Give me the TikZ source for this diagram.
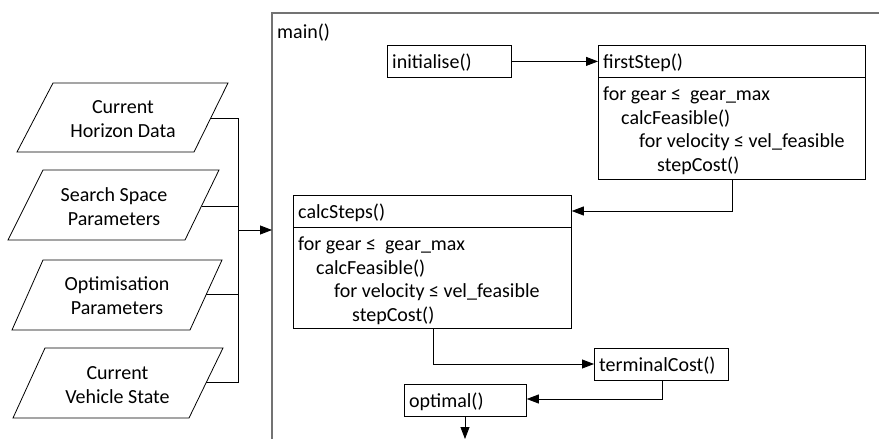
\documentclass[tikz,border=0pt]{standalone}
\usepackage{fontspec}
\setmainfont{Carlito}
\usetikzlibrary{arrows.meta}
\begin{document}
\begin{tikzpicture}[x=1pt,y=-1pt,
  box/.style={draw, line width=0.8pt, inner sep=0pt, anchor=north west},
  txt/.style={anchor=base west, inner sep=0pt, font=\fontsize{20}{23.5}\selectfont},
  ptxt/.style={align=center, inner sep=0pt, font=\fontsize{20}{24}\selectfont},
  para/.style={draw, line width=0.8pt, line join=miter},
  link/.style={line width=0.8pt},
  arr/.style={line width=0.8pt, -{Triangle[length=12pt,width=9pt]}},
  frame/.style={draw=black!55, line width=1.4pt}]
\useasboundingbox (0,0) rectangle (879,439);

% main frame
\draw[frame] (272,439) -- (272,13) -- (879,13);
\node[txt] (mainlbl) at (277,38) {main()};
\coordinate (mainin) at (272,230);

% input parallelograms
\draw[para] (53,83) -- (228,83) -- (194,152) -- (17,152) -- cycle;
\node[ptxt] (horizon) at (123,119) {Current\\Horizon Data};
\coordinate (horizonE) at (211,118);

\draw[para] (43,170) -- (219,170) -- (185,240) -- (8,240) -- cycle;
\node[ptxt] (search) at (114,207) {Search Space\\Parameters};
\coordinate (searchE) at (202,206);

\draw[para] (43,260) -- (222,260) -- (190,330) -- (12,330) -- cycle;
\node[ptxt] (optim) at (117,296) {Optimisation\\Parameters};
\coordinate (optimE) at (206,294);

\draw[para] (45,348) -- (223,348) -- (189,418) -- (13,418) -- cycle;
\node[ptxt] (vehicle) at (117.5,385) {Current\\Vehicle State};
\coordinate (vehicleE) at (206,382);

\coordinate (bus) at (238,230);
\draw[link] (horizonE) -- (bus |- horizonE) -- (bus |- vehicleE) -- (vehicleE);
\draw[link] (searchE) -- (bus |- searchE);
\draw[link] (optimE) -- (bus |- optimE);
\draw[arr] (bus) -- (mainin);

% initialise
\node[box, minimum width=124pt, minimum height=32pt] (init) at (387,45) {};
\node[txt] (initt) at (392,68) {initialise()};

% firstStep
\node[box, minimum width=267pt, minimum height=134pt] (fs) at (598,45) {};
\draw[link] (598,77) -- (865,77);
\node[txt] (fst) at (603,68) {firstStep()};
\node[txt] (fs1) at (603,100.5) {for gear ≤\ \ gear\_max};
\node[txt] (fs2) at (621,124) {calcFeasible()};
\node[txt] (fs3) at (639,147.5) {for velocity ≤ vel\_feasible};
\node[txt] (fs4) at (657,171) {stepCost()};

% calcSteps
\node[box, minimum width=278pt, minimum height=133pt] (cs) at (293,195) {};
\draw[link] (293,227) -- (571,227);
\node[txt] (cst) at (298,218) {calcSteps()};
\node[txt] (cs1) at (298,250.5) {for gear ≤\ \ gear\_max};
\node[txt] (cs2) at (316,274) {calcFeasible()};
\node[txt] (cs3) at (334,297.5) {for velocity ≤ vel\_feasible};
\node[txt] (cs4) at (352,321) {stepCost()};

% terminalCost
\node[box, minimum width=134pt, minimum height=32pt] (tc) at (594,348) {};
\node[txt] (tct) at (599,371) {terminalCost()};

% optimal
\node[box, minimum width=122pt, minimum height=32pt] (opt) at (404,384) {};
\node[txt] (optt) at (409,407) {optimal()};
\coordinate (out) at (465,439);

% connectors
\draw[arr] (init.east) -- (fs.west |- init.east);
\draw[arr] (fs.south -| 732,0) -- (732,211) -- (cs.east |- 0,211);
\draw[arr] (cs.south -| 433,0) -- (433,364) -- (tc.west |- 0,364);
\draw[arr] (tc.south -| 662,0) -- (662,399) -- (opt.east |- 0,399);
\draw[arr] (opt.south -| out) -- (out);
\end{tikzpicture}
\end{document}
